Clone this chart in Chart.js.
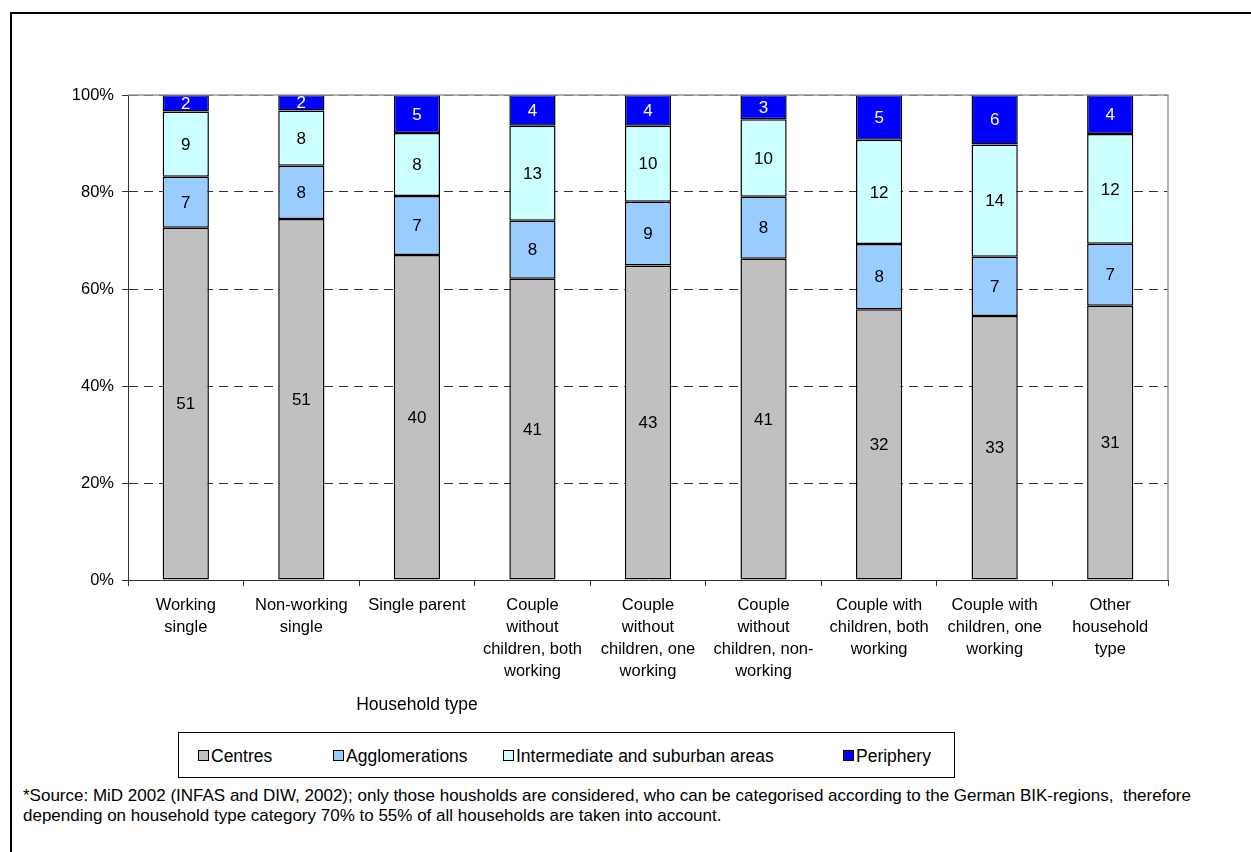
<!DOCTYPE html>
<html>
<head>
<meta charset="utf-8">
<script src="https://cdn.jsdelivr.net/npm/chart.js@4.4.1/dist/chart.umd.min.js"></script>
<style>
  html, body { margin: 0; padding: 0; background: #fff; }
  body { width: 1251px; height: 852px; position: relative; overflow: hidden; font-family: 'Liberation Sans', Arial, sans-serif; color: #000; }
  .frame { position: absolute; left: 10px; top: 12px; width: 1300px; height: 900px; border-left: 2px solid #000; border-top: 2px solid #000; }
  .wrap { position: absolute; left: 0; top: 0; width: 1251px; height: 700px; }
  .xtitle { position: absolute; left: 297px; width: 240px; top: 694px; text-align: center; font-size: 17.5px; }
  .legend { position: absolute; left: 178px; top: 732px; width: 777px; height: 46px; border: 1px solid #000; box-sizing: border-box; font-size: 17.5px; }
  .legend span { position: absolute; top: 13px; white-space: nowrap; }
  .legend i { display: inline-block; width: 9px; height: 9px; border: 1px solid #000; margin-right: 2px; vertical-align: 1px; }
  .note { position: absolute; left: 23px; top: 786px; font-size: 17px; line-height: 20px; white-space: nowrap; }
</style>
</head>
<body>
<div class="frame"></div>
<div class="wrap"><canvas id="chart"></canvas></div>
<div class="xtitle">Household type</div>
<div class="legend" id="legend"></div>
<div class="note">*Source: MiD 2002 (INFAS and DIW, 2002); only those housholds are considered, who can be categorised according to the German BIK-regions,&nbsp; therefore<br>depending on household type category 70% to 55% of all households are taken into account.</div>
<script>
const categories = [
  ['Working', 'single'],
  ['Non-working', 'single'],
  ['Single parent'],
  ['Couple', 'without', 'children, both', 'working'],
  ['Couple', 'without', 'children, one', 'working'],
  ['Couple', 'without', 'children, non-', 'working'],
  ['Couple with', 'children, both', 'working'],
  ['Couple with', 'children, one', 'working'],
  ['Other', 'household', 'type'],
];

const centres = [50.9, 51.0, 40.2, 41.0, 43.0, 41.0, 32.0, 33.0, 31.0];
const agglomerations = [7.4, 7.5, 7.3, 7.9, 8.7, 7.9, 7.7, 7.4, 7.0];
const intermediate = [9.4, 7.8, 7.8, 12.9, 10.4, 9.9, 12.3, 14.0, 12.4];
const periphery = [2.4, 2.2, 4.7, 4.2, 4.2, 3.1, 5.3, 6.2, 4.4];

const seriesNames = ['Centres', 'Agglomerations', 'Intermediate and suburban areas', 'Periphery'];
const seriesColors = ['#c0c0c0', '#99ccff', '#ccffff', '#0000ff'];
const labelColors = ['#000', '#000', '#000', '#fff'];
const legendX = [19, 154, 324, 664];

const FONT = "'Liberation Sans', Arial, sans-serif";
const raw = [centres, agglomerations, intermediate, periphery];
const totals = centres.map((_v, i) => raw.reduce((sum, s) => sum + s[i], 0));

const datasets = raw.map((values, k) => ({
  label: seriesNames[k],
  data: values.map((v, i) => (v / totals[i]) * 100),
  rawValues: values,
  backgroundColor: seriesColors[k],
  borderColor: '#000',
  borderWidth: 1.5,
  borderSkipped: false,
  barPercentage: 0.4,
  categoryPercentage: 1,
}));

// value labels in the middle of each segment
const segmentLabels = {
  id: 'segmentLabels',
  afterDatasetsDraw(chart) {
    const { ctx } = chart;
    ctx.save();
    ctx.font = `17px ${FONT}`;
    ctx.textAlign = 'center';
    ctx.textBaseline = 'middle';
    chart.data.datasets.forEach((ds, k) => {
      chart.getDatasetMeta(k).data.forEach((bar, i) => {
        ctx.fillStyle = labelColors[k];
        ctx.fillText(String(Math.round(ds.rawValues[i])), bar.x, (bar.y + bar.base) / 2 + 1);
      });
    });
    ctx.restore();
  },
};

// grey frame on top and right of the plot area
const plotFrame = {
  id: 'plotFrame',
  afterDraw(chart) {
    const { ctx, chartArea: a } = chart;
    ctx.save();
    ctx.strokeStyle = '#999';
    ctx.lineWidth = 1.5;
    ctx.beginPath();
    ctx.moveTo(a.left, a.top);
    ctx.lineTo(a.right, a.top);
    ctx.lineTo(a.right, a.bottom);
    ctx.stroke();
    ctx.restore();
  },
};

new Chart(document.getElementById('chart'), {
  type: 'bar',
  data: { labels: categories, datasets },
  options: {
    responsive: true,
    maintainAspectRatio: false,
    animation: false,
    layout: { padding: { top: 95, right: 83, left: 0, bottom: 0 } },
    plugins: { legend: { display: false }, tooltip: { enabled: false } },
    scales: {
      x: {
        stacked: true,
        afterFit: (s) => { s.height = 120; },
        grid: { offset: true, drawOnChartArea: false, tickLength: 6, color: '#333', lineWidth: 1 },
        border: { color: '#333', width: 1 },
        ticks: { color: '#000', font: { family: FONT, size: 16.5, lineHeight: 1.32 }, padding: 9, maxRotation: 0, autoSkip: false },
      },
      y: {
        stacked: true,
        min: 0,
        max: 100,
        afterFit: (s) => { s.width = 128; },
        grid: { color: '#333', lineWidth: 1, tickLength: 6, tickBorderDash: [], tickColor: '#333' },
        border: { color: '#333', width: 1, dash: [9, 6] },
        ticks: { stepSize: 20, color: '#000', font: { family: FONT, size: 16.5 }, padding: 8, callback: (v) => `${v}%` },
      },
    },
  },
  plugins: [segmentLabels, plotFrame],
});

const legend = document.getElementById('legend');
seriesNames.forEach((name, k) => {
  const item = document.createElement('span');
  item.style.left = `${legendX[k]}px`;
  item.innerHTML = `<i style="background:${seriesColors[k]}"></i>${name}`;
  legend.appendChild(item);
});
</script>
</body>
</html>
